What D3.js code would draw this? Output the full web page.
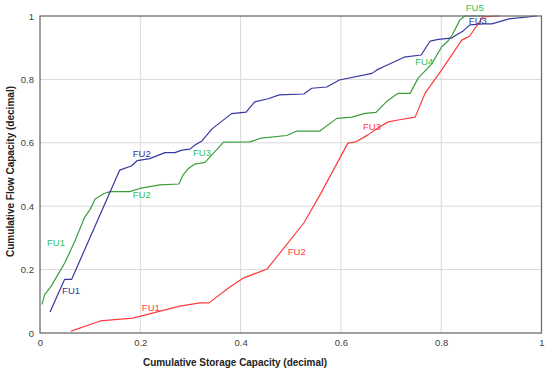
<!DOCTYPE html>
<html><head><meta charset="utf-8">
<script src="https://cdn.jsdelivr.net/npm/d3@7"></script>
<style>body{margin:0;background:#fff}svg{display:block}</style>
</head><body><svg id="c" width="550" height="373"></svg>
<script>
const xTicks=[0,0.2,0.4,0.6,0.8,1];
const yTicks=[0,0.2,0.4,0.6,0.8,1];
const xTickLabels=["0","0.2","0.4","0.6","0.8","1"];
const yTickLabels=["0","0.2","0.4","0.6","0.8","1"];
const xTitle="Cumulative Storage Capacity (decimal)";
const yTitle="Cumulative Flow Capacity (decimal)";
const seriesNames=["green","blue","red"];
const greenX=[0.004,0.009,0.022,0.049,0.069,0.089,0.100,0.110,0.128,0.140,0.179,0.199,0.239,0.277,0.285,0.296,0.309,0.329,0.366,0.419,0.441,0.492,0.512,0.558,0.592,0.622,0.648,0.670,0.691,0.714,0.738,0.754,0.768,0.781,0.801,0.814,0.822,0.837,0.847,0.887];
const greenY=[0.090,0.120,0.147,0.220,0.288,0.365,0.390,0.423,0.440,0.446,0.446,0.456,0.467,0.470,0.498,0.519,0.533,0.538,0.602,0.603,0.615,0.623,0.637,0.637,0.677,0.681,0.693,0.696,0.730,0.756,0.756,0.804,0.827,0.849,0.903,0.922,0.940,0.987,1.0,1.0];
const blueX=[0.020,0.049,0.063,0.159,0.182,0.194,0.219,0.249,0.269,0.283,0.299,0.309,0.323,0.343,0.382,0.411,0.428,0.455,0.477,0.526,0.542,0.572,0.597,0.662,0.672,0.685,0.726,0.760,0.778,0.794,0.820,0.830,0.844,0.857,0.883,0.901,0.935,0.991];
const blueY=[0.066,0.169,0.169,0.514,0.527,0.544,0.550,0.569,0.569,0.577,0.580,0.593,0.606,0.644,0.692,0.697,0.729,0.739,0.751,0.754,0.772,0.776,0.798,0.819,0.830,0.840,0.870,0.877,0.921,0.926,0.930,0.940,0.953,0.972,0.975,0.975,0.991,1.0];
const redX=[0.062,0.120,0.185,0.279,0.319,0.337,0.380,0.405,0.453,0.526,0.558,0.614,0.630,0.654,0.674,0.694,0.714,0.748,0.768,0.801,0.841,0.857,0.883,0.917];
const redY=[0.006,0.038,0.047,0.085,0.095,0.095,0.147,0.173,0.202,0.347,0.435,0.599,0.603,0.625,0.647,0.666,0.672,0.681,0.757,0.830,0.924,0.937,0.997,1.0];
const labelText=["FU1","FU2","FU3","FU4","FU5","FU1","FU2","FU3","FU1","FU2","FU3"];
const labelSeries=["green","green","green","green","green","blue","blue","blue","red","red","red"];
const labelX=[0.032,0.203,0.323,0.766,0.867,0.062,0.203,0.873,0.221,0.512,0.662];
const labelY=[0.285,0.435,0.570,0.855,1.025,0.132,0.567,0.985,0.081,0.256,0.652];

const colors={green:"#3a9e3a",blue:"#3838a0",red:"#ff3b3b"};
const labelColors={green:"#2fc25a",blue:"#34348c",red:"#ff3b3b"};
const svg=d3.select("#c");
const L=40,R=541.5,T=16,B=333;
const x=d3.scaleLinear().domain([0,1]).range([L,R]);
const y=d3.scaleLinear().domain([0,1]).range([B,T]);
const font="'Liberation Sans', Arial, sans-serif";

const g=svg.append("g");
g.selectAll("line.gx").data(xTicks.slice(1,-1)).join("line")
 .attr("x1",d=>x(d)).attr("x2",d=>x(d)).attr("y1",T).attr("y2",B)
 .attr("stroke","#d9d9d9").attr("stroke-width",1);
g.selectAll("line.gy").data(yTicks.slice(1,-1)).join("line")
 .attr("y1",d=>y(d)).attr("y2",d=>y(d)).attr("x1",L).attr("x2",R)
 .attr("stroke","#d9d9d9").attr("stroke-width",1);

const xa=svg.append("g").attr("transform",`translate(0,${B})`)
 .call(d3.axisBottom(x).tickValues(xTicks).tickFormat((d,i)=>xTickLabels[i]).tickSize(0).tickPadding(6));
const ya=svg.append("g").attr("transform",`translate(${L},0)`)
 .call(d3.axisLeft(y).tickValues(yTicks).tickFormat((d,i)=>yTickLabels[i]).tickSize(0).tickPadding(6));
[xa,ya].forEach(a=>{a.select(".domain").remove();a.selectAll("text").attr("font-family",font).attr("font-size",9.5).attr("fill","#404040");});

const line=d3.line().x(d=>x(d[0])).y(d=>y(d[1]));
const data={green:greenX.map((v,i)=>[v,greenY[i]]),blue:blueX.map((v,i)=>[v,blueY[i]]),red:redX.map((v,i)=>[v,redY[i]])};
seriesNames.forEach(s=>{
 svg.append("path").datum(data[s]).attr("d",line).attr("fill","none")
  .attr("stroke",colors[s]).attr("stroke-width",1.2).attr("stroke-linejoin","round");
});

svg.append("rect").attr("x",L).attr("y",T).attr("width",R-L).attr("height",B-T)
 .attr("fill","none").attr("stroke","#6e6e6e").attr("stroke-width",1.3);

svg.selectAll("text.lab").data(labelText).join("text").attr("class","lab")
 .attr("x",(d,i)=>x(labelX[i])).attr("y",(d,i)=>y(labelY[i])).attr("dy","0.35em")
 .attr("text-anchor","middle").attr("font-family",font).attr("font-size",9.5)
 .attr("fill",(d,i)=>labelColors[labelSeries[i]]).text(d=>d);

svg.append("text").attr("x",235).attr("y",366).attr("text-anchor","middle")
 .attr("font-family",font).attr("font-size",11).attr("font-weight","bold").attr("fill","#222")
 .attr("textLength",184).attr("lengthAdjust","spacingAndGlyphs").text(xTitle);
svg.append("text").attr("transform","translate(14,171.5) rotate(-90)").attr("text-anchor","middle")
 .attr("font-family",font).attr("font-size",11).attr("font-weight","bold").attr("fill","#222")
 .attr("textLength",171).attr("lengthAdjust","spacingAndGlyphs").text(yTitle);
</script></body></html>
